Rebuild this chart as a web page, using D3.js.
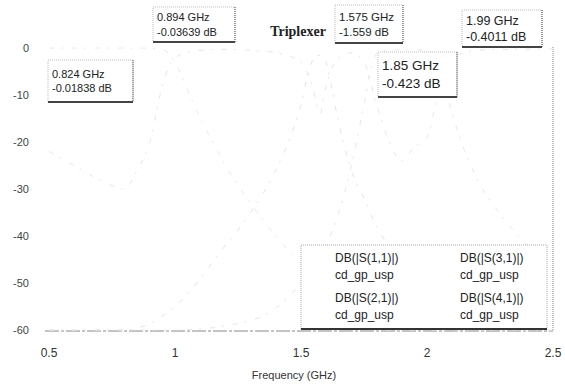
<!DOCTYPE html>
<html>
<head>
<meta charset="utf-8">
<script src="https://cdn.jsdelivr.net/npm/d3@7"></script>
<style>
  body { margin: 0; background: #fff; }
  svg { display: block; font-family: "Liberation Sans", Arial, sans-serif; }
</style>
</head>
<body>
<svg id="chart" width="565" height="385"></svg>
<script>
// axis ticks
var xTicks = [0.5, 1, 1.5, 2, 2.5];
var yTicks = [0, -10, -20, -30, -40, -50, -60];

// series (freq in GHz, value in dB) - read off the faded scan, so rough
var s11Freq = [0.5, 0.6, 0.7, 0.8, 0.85, 0.9, 0.95, 1.0, 1.1, 1.2, 1.3, 1.4, 1.5, 1.55, 1.575, 1.6, 1.65, 1.7, 1.75, 1.8, 1.85, 1.9, 1.95, 2.0, 2.05, 2.1, 2.2, 2.3, 2.5];
var s11Db   = [-22, -25, -28, -30, -26, -20, -8, -2, -0.5, -0.3, -0.5, -1, -3, -9, -14, -8, -2, -1, -3, -12, -20, -24, -21, -19, -8, -2, -0.5, -0.3, -0.2];

var s21Freq = [0.5, 0.6, 0.7, 0.8, 0.85, 0.9, 0.95, 1.0, 1.05, 1.1, 1.15, 1.2, 1.3, 1.4, 1.5, 1.6, 1.8, 2.0, 2.2, 2.5];
var s21Db   = [-0.01, -0.01, -0.01, -0.02, -0.03, -0.04, -0.3, -3, -9, -15, -20, -25, -33, -40, -46, -52, -60, -60, -60, -60];

var s31Freq = [0.5, 0.8, 1.0, 1.2, 1.3, 1.4, 1.45, 1.5, 1.53, 1.55, 1.56, 1.575, 1.59, 1.6, 1.62, 1.65, 1.7, 1.75, 1.8, 1.9, 2.0, 2.2, 2.5];
var s31Db   = [-60, -60, -55, -42, -35, -26, -20, -12, -5, -2.2, -1.7, -1.56, -1.8, -3, -8, -16, -26, -32, -38, -45, -50, -57, -60];

var s41Freq = [0.5, 1.0, 1.3, 1.5, 1.6, 1.65, 1.7, 1.75, 1.78, 1.8, 1.85, 1.9, 1.95, 1.99, 2.03, 2.06, 2.1, 2.15, 2.2, 2.3, 2.4, 2.5];
var s41Db   = [-60, -60, -58, -50, -42, -35, -25, -12, -4, -1.2, -0.42, -0.38, -0.39, -0.40, -1.5, -6, -14, -22, -28, -36, -42, -46];

// marker readouts
var markerLabels = [
  ['0.824 GHz', '-0.01838 dB'],
  ['0.894 GHz', '-0.03639 dB'],
  ['1.575 GHz', '-1.559 dB'],
  ['1.85 GHz', '-0.423 dB'],
  ['1.99 GHz', '-0.4011 dB']
];

var legendNames = ['DB(|S(1,1)|)', 'DB(|S(3,1)|)', 'DB(|S(2,1)|)', 'DB(|S(4,1)|)'];
var legendSource = 'cd_gp_usp';

var svg = d3.select('#chart');
var x = d3.scaleLinear().domain([0.5, 2.5]).range([49, 553]);
var y = d3.scaleLinear().domain([-60, 0]).range([330, 48]);

// frame (very faint in the scan)
svg.append('line').attr('x1', 553).attr('x2', 553).attr('y1', 47).attr('y2', 330)
  .attr('stroke', '#888').attr('stroke-dasharray', '1,1');
svg.append('line').attr('x1', 45).attr('x2', 553).attr('y1', 331).attr('y2', 331)
  .attr('stroke', '#888').attr('stroke-dasharray', '14,2,3,2');

// curves - almost washed out in the reference
var clip = function(v) { return Math.max(-60, v); };
var line = d3.line().x(d => x(d[0])).y(d => y(clip(d[1]))).curve(d3.curveMonotoneX);
var series = [
  { f: s11Freq, v: s11Db, c: '#e6e6e6' },
  { f: s21Freq, v: s21Db, c: '#e9e9e9' },
  { f: s31Freq, v: s31Db, c: '#e3e3e3' },
  { f: s41Freq, v: s41Db, c: '#e6e6e6' }
];
series.forEach(function(s) {
  svg.append('path').datum(d3.zip(s.f, s.v))
    .attr('d', line).attr('fill', 'none')
    .attr('stroke', s.c).attr('stroke-width', 1)
    .attr('stroke-dasharray', '5,7,2,9');
});

// axes
var yAxis = svg.append('g').attr('font-size', 11).attr('fill', '#444');
yAxis.selectAll('text').data(yTicks).enter().append('text')
  .attr('x', 29).attr('y', d => y(d) + 4).attr('text-anchor', 'end').text(d => d);
var xAxis = svg.append('g').attr('font-size', 12).attr('fill', '#333');
xAxis.selectAll('text').data(xTicks).enter().append('text')
  .attr('x', d => x(d)).attr('y', 357).attr('text-anchor', 'middle').text(d => d);
svg.append('text').attr('x', 294).attr('y', 379).attr('text-anchor', 'middle')
  .attr('font-size', 11).attr('fill', '#333').text('Frequency (GHz)');

// title
svg.append('text').attr('x', 298).attr('y', 36).attr('text-anchor', 'middle')
  .attr('font-family', '"Liberation Serif", "DejaVu Serif", serif')
  .attr('font-weight', 'bold').attr('font-size', 14).attr('fill', '#222')
  .text('Triplexer');

// marker boxes: [x, y, w, h, fontSize]
var boxes = [
  [48, 60, 85, 42, 11],
  [153, 7, 82, 35, 11],
  [335, 5, 68, 38, 11.5],
  [378, 52, 79, 45, 13.5],
  [462, 10, 80, 37, 12.5]
];
boxes.forEach(function(b, i) {
  var g = svg.append('g').attr('transform', 'translate(' + b[0] + ',' + b[1] + ')');
  g.append('rect').attr('width', b[2]).attr('height', b[3]).attr('fill', '#fff')
    .attr('stroke', '#bbb').attr('stroke-dasharray', '1,1');
  g.append('line').attr('x1', b[2]).attr('x2', b[2]).attr('y1', 0).attr('y2', b[3])
    .attr('stroke', '#555').attr('stroke-dasharray', '1,1');
  g.append('line').attr('x1', 0).attr('x2', b[2]).attr('y1', b[3]).attr('y2', b[3])
    .attr('stroke', '#444').attr('stroke-width', 2);
  var lh = b[4] * 1.3;
  markerLabels[i].forEach(function(t, k) {
    g.append('text').attr('x', 4).attr('y', b[3] / 2 - lh / 2 + b[4] * 0.35 + k * lh)
      .attr('font-size', b[4]).attr('fill', '#222').text(t);
  });
});

// legend
var lg = svg.append('g').attr('transform', 'translate(301,245)');
lg.append('rect').attr('width', 246).attr('height', 84).attr('fill', '#fff')
  .attr('stroke', '#aaa').attr('stroke-dasharray', '1,1');
lg.append('line').attr('x1', 0).attr('x2', 246).attr('y1', 84).attr('y2', 84)
  .attr('stroke', '#333').attr('stroke-width', 2);
legendNames.forEach(function(name, i) {
  var cx = 34 + (i % 2) * 125, cy = 17 + Math.floor(i / 2) * 40;
  lg.append('text').attr('x', cx).attr('y', cy).attr('font-size', 12).attr('fill', '#222').text(name);
  lg.append('text').attr('x', cx).attr('y', cy + 17).attr('font-size', 12).attr('fill', '#222').text(legendSource);
});
</script>
</body>
</html>
